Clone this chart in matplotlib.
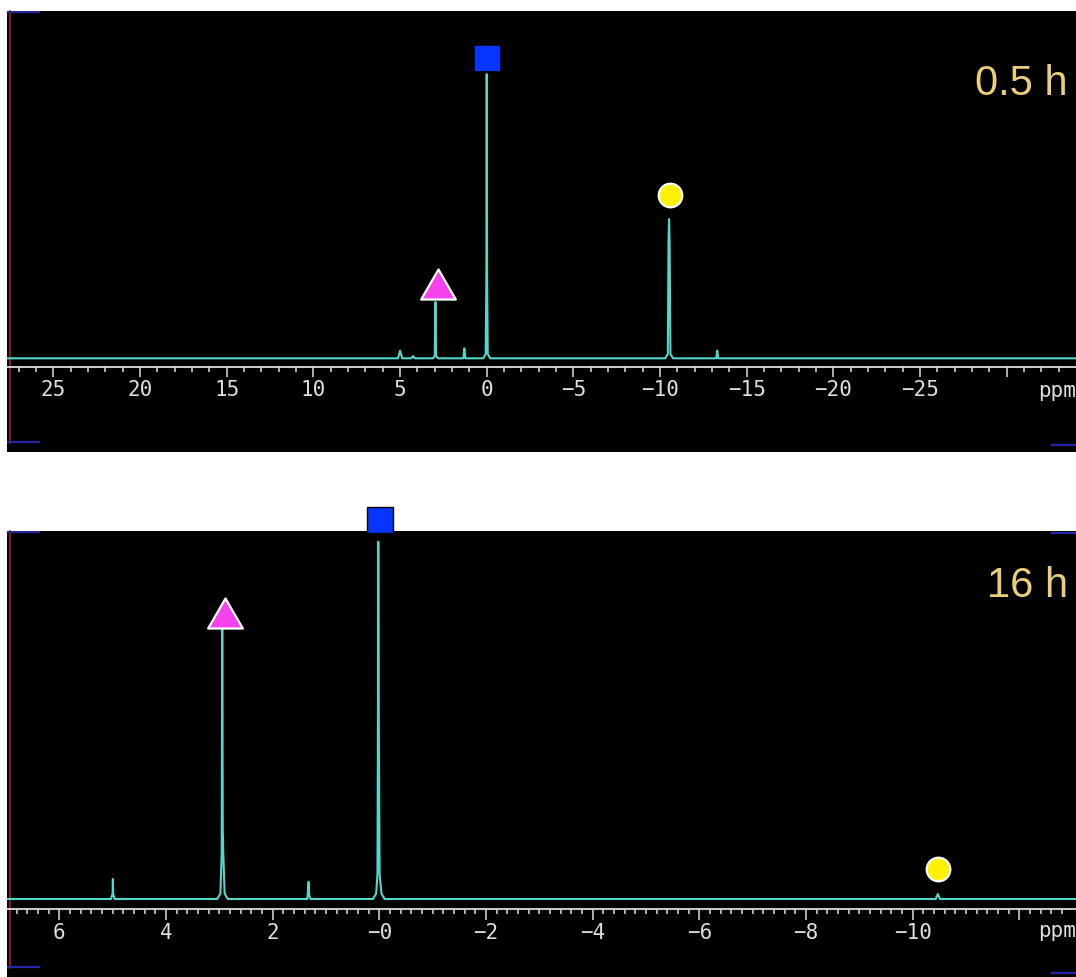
import matplotlib
matplotlib.use('Agg')
import matplotlib.pyplot as plt
from matplotlib.path import Path

# ---- data: 0.5 h spectrum (ppm, intensity, tallest peak = 100) ----
ppm_05h = [27.7, 5.12, 5.0, 4.88, 4.35, 4.25, 4.15, 3.1, 3.0, 2.96, 2.92, 2.8,
           1.35, 1.29, 1.23, 0.2, 0.06, 0.02, 0.0, -0.02, -0.06, -0.2,
           -10.3, -10.45, -10.49, -10.52, -10.55, -10.6, -10.75,
           -13.24, -13.3, -13.36, -34.0]
int_05h = [0, 0, 2.7, 0, 0, 0.8, 0, 0, 0.8, 19.8, 0.8, 0,
           0, 3.5, 0, 0, 1.5, 29, 100, 29, 1.5, 0,
           0, 1.5, 41.4, 49, 41.4, 1.5, 0,
           0, 2.7, 0, 0]

# ---- data: 16 h spectrum ----
ppm_16h = [6.98, 5.03, 5.0, 4.995, 4.99, 4.96, 3.04, 2.98, 2.955, 2.945, 2.935, 2.925, 2.90, 2.84,
           1.35, 1.325, 1.315, 1.29, 0.12, 0.06, 0.035, 0.025, 0.02, 0.012, -0.005, -0.04, -0.1,
           -10.43, -10.47, -10.51, -13.06]
int_16h = [0, 0, 1.5, 5.6, 1.5, 0, 0, 1.5, 12.6, 76, 19.6, 12.6, 1.5, 0,
           0, 4.8, 1, 0, 0, 1.5, 7, 53.6, 100, 53.6, 7, 1.5, 0,
           0, 1.4, 0, 0]

# peak markers: square, triangle, circle (ppm, height)
mark_05h_ppm = [0.0, 2.79, -10.58]
mark_05h_y = [105.7, 26.1, 57.5]
mark_16h_ppm = [-0.02, 2.89, -10.47]
mark_16h_y = [106.0, 80.0, 8.3]

ticks_05h = [25, 20, 15, 10, 5, 0, -5, -10, -15, -20, -25, -30]
labels_05h = ['25', '20', '15', '10', '5', '0', '−5', '−10', '−15', '−20', '−25', '']
ticks_16h = [6, 4, 2, 0, -2, -4, -6, -8, -10, -12]
labels_16h = ['6', '4', '2', '−0', '−2', '−4', '−6', '−8', '−10', '']

W, H = 1076, 978
fig = plt.figure(figsize=(W / 100, H / 100), dpi=100)
fig.patch.set_facecolor('white')

cyan = '#55d6cb'
tickc = '#dedede'
gold = '#e8cf78'
tri = Path([(-1, -0.866), (1, -0.866), (0, 0.866), (-1, -0.866)],
           [Path.MOVETO, Path.LINETO, Path.LINETO, Path.CLOSEPOLY])


def panel(top_px, bot_px, ppm, inten, xlim, ylim, axis_y, ticks, labels, minor,
          mk_ppm, mk_y, title, title_y, ppm_y, sq_edge, sq_ms, major_len, right_bars):
    ax = fig.add_axes([7 / W, 1 - bot_px / H, (W - 7) / W, (bot_px - top_px) / H])
    ax.set_facecolor('black')
    ax.plot(ppm, inten, color=cyan, lw=1.5, zorder=3)
    ax.set_xlim(xlim)
    ax.set_ylim(ylim)
    for s in ['top', 'left', 'right']:
        ax.spines[s].set_visible(False)
    ax.spines['bottom'].set_position(('data', axis_y))
    ax.spines['bottom'].set_color(tickc)
    ax.spines['bottom'].set_linewidth(1.3)
    ax.set_yticks([])
    ax.set_xticks(ticks)
    ax.set_xticklabels(labels, family='DejaVu Sans Mono')
    ax.set_xticks(minor, minor=True)
    ax.tick_params(axis='x', which='major', length=major_len, width=1.1, color=tickc,
                   labelcolor=tickc, labelsize=15, pad=1.5)
    ax.tick_params(axis='x', which='minor', length=3.8, width=1.1, color=tickc)

    # markers
    ax.plot(mk_ppm[0], mk_y[0], marker='s', ms=sq_ms, mfc='#0535ff', mec=sq_edge,
            mew=1.0, clip_on=False, zorder=5)
    ax.plot(mk_ppm[1], mk_y[1], marker=tri, ms=25, mfc='#f542ec', mec='white',
            mew=1.6, clip_on=False, zorder=5)
    ax.plot(mk_ppm[2], mk_y[2], marker='o', ms=17, mfc='#fff200', mec='white',
            mew=1.6, clip_on=False, zorder=5)

    ax.text(0.9925, title_y, title, transform=ax.transAxes, ha='right', va='baseline',
            fontsize=30, color=gold, family='Liberation Sans')
    ax.text(0.982, ppm_y, 'ppm', transform=ax.transAxes, ha='center', va='baseline',
            fontsize=15, color=tickc, family='DejaVu Sans Mono')

    # display frame marks of the NMR viewer
    ax.plot([0.003, 0.003], [0.02, 1.0], transform=ax.transAxes, color='#a0202c',
            lw=1.2, clip_on=False)
    ax.plot([0, 0.03], [0.998, 0.998], transform=ax.transAxes, color='#2626a8', lw=1.6)
    ax.plot([0, 0.03], [0.022, 0.022], transform=ax.transAxes, color='#2626a8', lw=1.6)
    for yb in right_bars:
        ax.plot([0.978, 1.0], [yb, yb], transform=ax.transAxes, color='#2626a8', lw=1.6)
    return ax


panel(12, 453, ppm_05h, int_05h, (27.68, -34.0), (-32.96, 122.2), -3.17,
      ticks_05h, labels_05h, list(range(27, -34, -1)),
      mark_05h_ppm, mark_05h_y, '0.5 h', 0.812, 0.127, '#0535ff', 17, 7.2, [0.016])

panel(532, 978, ppm_16h, int_16h, (6.98, -13.06), (-21.83, 103.0), -2.80,
      ticks_16h, labels_16h, [6.8 - 0.2 * i for i in range(99)],
      mark_16h_ppm, mark_16h_y, '16 h', 0.854, 0.0913, 'black', 19, 7.8, [0.995, 0.008])

fig.savefig('out.png', dpi=100, facecolor='white')
